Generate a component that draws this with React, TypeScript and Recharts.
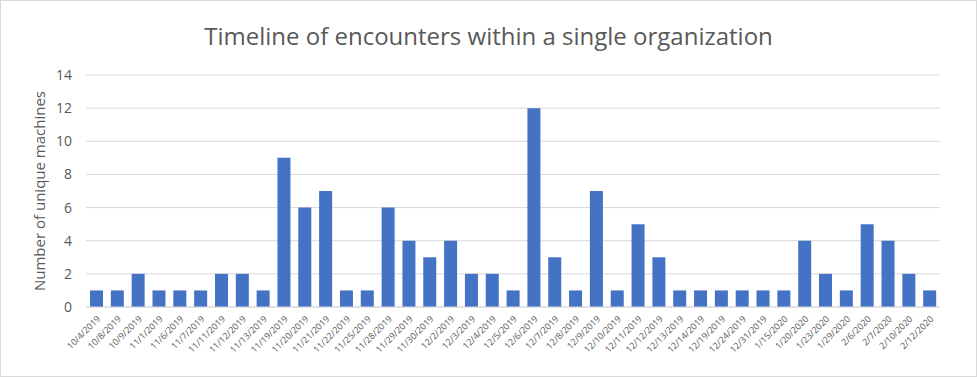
import React from 'react';
import { BarChart, Bar, XAxis, YAxis, CartesianGrid } from 'recharts';

const dates = [
  '10/4/2019', '10/8/2019', '10/9/2019', '11/1/2019', '11/6/2019', '11/7/2019',
  '11/11/2019', '11/12/2019', '11/13/2019', '11/19/2019', '11/20/2019', '11/21/2019',
  '11/22/2019', '11/25/2019', '11/28/2019', '11/29/2019', '11/30/2019', '12/2/2019',
  '12/3/2019', '12/4/2019', '12/5/2019', '12/6/2019', '12/7/2019', '12/8/2019',
  '12/9/2019', '12/10/2019', '12/11/2019', '12/12/2019', '12/13/2019', '12/14/2019',
  '12/19/2019', '12/24/2019', '12/31/2019', '1/15/2020', '1/20/2020', '1/23/2020',
  '1/29/2020', '2/6/2020', '2/7/2020', '2/10/2020', '2/12/2020',
];

const machines = [
  1, 1, 2, 1, 1, 1, 2, 2, 1, 9, 6, 7, 1, 1, 6, 4, 3, 4, 2, 2, 1, 12, 3, 1, 7, 1, 5,
  3, 1, 1, 1, 1, 1, 1, 4, 2, 1, 5, 4, 2, 1,
];

const yTicks = [0, 2, 4, 6, 8, 10, 12, 14];

const data = dates.map((d, i) => ({ date: d, machines: machines[i] }));

const font = '"Segoe UI", "Open Sans", "Noto Sans", sans-serif';

export default function App() {
  return (
    <div
      style={{
        position: 'absolute',
        left: 0,
        top: 0,
        width: 975,
        height: 375,
        border: '1px solid #d9d9d9',
        background: '#fff',
        fontFamily: font,
      }}
    >
      <div
        style={{
          position: 'absolute',
          top: 18,
          left: 0,
          width: '100%',
          textAlign: 'center',
          fontSize: 24,
          color: '#595959',
        }}
      >
        Timeline of encounters within a single organization
      </div>
      <div style={{ position: 'absolute', left: -1, top: -1 }}>
        <BarChart
          width={977}
          height={377}
          data={data}
          barSize={13}
          margin={{ top: 75, right: 37, left: 20, bottom: 0 }}
        >
          <CartesianGrid vertical={false} stroke="#d9d9d9" />
          <XAxis
            dataKey="date"
            interval={0}
            angle={-45}
            textAnchor="end"
            height={70}
            tickLine={false}
            axisLine={{ stroke: '#d9d9d9' }}
            tick={{ fontSize: 9, fill: '#595959', fontFamily: font }}
          />
          <YAxis
            domain={[0, 14]}
            ticks={yTicks}
            width={66}
            tickLine={false}
            axisLine={false}
            tickMargin={8}
            tick={{ fontSize: 14, fill: '#595959', fontFamily: font }}
            label={{
              value: 'Number of unique machines',
              angle: -90,
              position: 'insideLeft',
              offset: 0,
              dx: 20,
              style: { textAnchor: 'middle', fontSize: 15, fill: '#595959', fontFamily: font },
            }}
          />
          <Bar dataKey="machines" fill="#4472C4" isAnimationActive={false} />
        </BarChart>
      </div>
    </div>
  );
}
